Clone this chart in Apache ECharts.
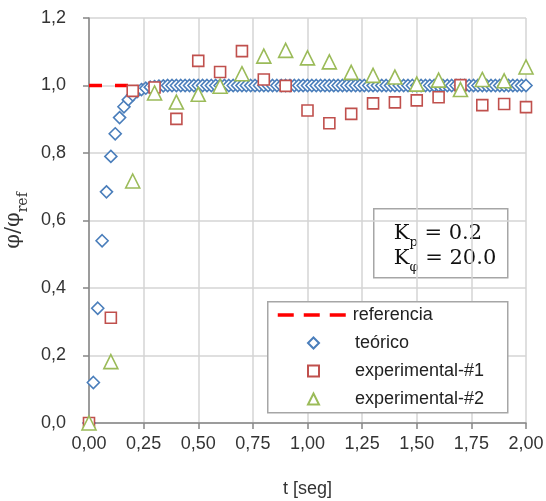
<!DOCTYPE html>
<html>
<head>
    <meta http-equiv="Content-Type" content="text/html; charset=UTF-8">
    <script src="https://cdn.jsdelivr.net/npm/echarts@6/dist/echarts.min.js"></script>
    <style>
        html, body { margin: 0; padding: 0; background: #fff; }
        #container { width: 546px; height: 501px; }
    </style>
</head>
<body>
<div id="container"></div>
<script>
// teórico: respuesta teórica, paso de 0,02 s
var teoT = [0,0.02,0.04,0.06,0.08,0.10,0.12,0.14,0.16,0.18,0.20,0.22,0.24,0.26,0.28,0.30,0.32,0.34,0.36,0.38,
            0.40,0.42,0.44,0.46,0.48,0.50,0.52,0.54,0.56,0.58,0.60,0.62,0.64,0.66,0.68,0.70,0.72,0.74,0.76,0.78,
            0.80,0.82,0.84,0.86,0.88,0.90,0.92,0.94,0.96,0.98,1.00,1.02,1.04,1.06,1.08,1.10,1.12,1.14,1.16,1.18,
            1.20,1.22,1.24,1.26,1.28,1.30,1.32,1.34,1.36,1.38,1.40,1.42,1.44,1.46,1.48,1.50,1.52,1.54,1.56,1.58,
            1.60,1.62,1.64,1.66,1.68,1.70,1.72,1.74,1.76,1.78,1.80,1.82,1.84,1.86,1.88,1.90,1.92,1.94,1.96,1.98,2.00];
var teoY = [0,0.12,0.34,0.54,0.685,0.79,0.857,0.905,0.937,0.958,0.972,0.982,0.988,0.992,0.995,0.997,0.998,0.999,1,1,
            1,1,1,1,1,1,1,1,1,1,1,1,1,1,1,1,1,1,1,1,
            1,1,1,1,1,1,1,1,1,1,1,1,1,1,1,1,1,1,1,1,
            1,1,1,1,1,1,1,1,1,1,1,1,1,1,1,1,1,1,1,1,
            1,1,1,1,1,1,1,1,1,1,1,1,1,1,1,1,1,1,1,1,1];
// experimentales, paso de 0,1 s
var expT  = [0,0.1,0.2,0.3,0.4,0.5,0.6,0.7,0.8,0.9,1.0,1.1,1.2,1.3,1.4,1.5,1.6,1.7,1.8,1.9,2.0];
var exp1Y = [0,0.312,0.984,0.994,0.901,1.073,1.040,1.102,1.018,0.999,0.926,0.888,0.916,0.947,0.950,0.956,0.965,1.001,0.942,0.945,0.936];
var exp2Y = [0,0.182,0.717,0.978,0.951,0.974,0.998,1.035,1.087,1.104,1.082,1.070,1.039,1.030,1.025,1.004,1.016,0.988,1.018,1.014,1.055];
var refT = [0, 2];
var refY = [1, 1];

function pares(xs, ys){
    var out = [];
    for (var i = 0; i < xs.length; i++) out.push([xs[i], ys[i]]);
    return out;
}

var fuente = '"Liberation Sans", Arial, sans-serif';
var serif = '"DejaVu Serif", "Liberation Serif", serif';
var txtLeyenda = { fontFamily: fuente, fontSize: 18, color: '#222', lineHeight: 20 };

var myChart = echarts.init(document.getElementById('container'), null, {renderer: 'canvas'});
var option = {
    animation: false,
    backgroundColor: '#fff',
    grid: { left: 89, right: 20, top: 18, bottom: 78, outerBoundsMode: 'none', containLabel: false },
    xAxis: {
        type: 'value', min: 0, max: 2, interval: 0.25,
        name: 't [seg]', nameLocation: 'middle', nameGap: 57,
        nameTextStyle: { fontFamily: fuente, fontSize: 18, color: '#333' },
        axisLine: { show: true, onZero: false, lineStyle: { color: '#868686', width: 1.5 } },
        axisTick: { show: true, length: 6, lineStyle: { color: '#868686', width: 1.5 } },
        axisLabel: { margin: 12, fontFamily: fuente, fontSize: 18, color: '#333',
            formatter: function(v){ return v.toFixed(2).replace('.', ','); } },
        splitLine: { show: true, lineStyle: { color: '#d4d4d4', width: 1.5 } }
    },
    yAxis: {
        type: 'value', min: 0, max: 1.2, interval: 0.2,
        name: '{a|φ/φ}{b|ref}', nameLocation: 'middle', nameGap: 55,
        nameTextStyle: {
            rich: {
                a: { fontFamily: serif, fontSize: 21, color: '#333', lineHeight: 26, verticalAlign: 'bottom' },
                b: { fontFamily: serif, fontSize: 14, color: '#333', lineHeight: 26, verticalAlign: 'bottom', padding: [0,0,-6,0] }
            }
        },
        axisLine: { show: true, lineStyle: { color: '#868686', width: 1.5 } },
        axisTick: { show: true, length: 6, lineStyle: { color: '#868686', width: 1.5 } },
        axisLabel: { margin: 23, fontFamily: fuente, fontSize: 18, color: '#333',
            formatter: function(v){ return v.toFixed(1).replace('.', ','); } },
        splitLine: { show: true, lineStyle: { color: '#d4d4d4', width: 1.5 } }
    },
    legend: [{
        orient: 'vertical', left: 276, top: 305, z: 10,
        padding: 0, itemWidth: 70, itemHeight: 14,
        textStyle: txtLeyenda,
        data: [{ name: 'referencia', itemStyle: { opacity: 0 }, lineStyle: { type: [16, 10], width: 3.5 } }]
    }, {
        orient: 'vertical', left: 307, top: 333, z: 10,
        padding: 0, itemGap: 8, itemWidth: 11, itemHeight: 11,
        textStyle: { fontFamily: fuente, fontSize: 18, color: '#222', lineHeight: 20, padding: [0, 0, 0, 31] },
        data: ['teórico', 'experimental-#1', 'experimental-#2']
    }],
    graphic: [{
        type: 'rect', left: 267, top: 301, z: 5,
        shape: { width: 240, height: 111 },
        style: { fill: '#fff', stroke: '#a6a6a6', lineWidth: 1.5 }
    }, {
        type: 'group', left: 373, top: 208, z: 100,
        children: [{
            type: 'rect', shape: { x: 0, y: 0, width: 134, height: 69 },
            style: { fill: '#fff', stroke: '#a6a6a6', lineWidth: 1.5 }
        }, {
            type: 'text', x: 20, y: 10,
            style: {
                text: '{k|K}{s|p}{k| = 0.2}\n{k|K}{s|φ}{k| = 20.0}',
                rich: {
                    k: { fontFamily: serif, fontSize: 21, fill: '#111', lineHeight: 25, verticalAlign: 'bottom' },
                    s: { fontFamily: serif, fontSize: 13, fill: '#111', lineHeight: 25, verticalAlign: 'bottom', padding: [0,0,-5,0] }
                }
            }
        }]
    }],
    series: [{
        name: 'referencia', type: 'line', data: pares(refT, refY),
        symbol: 'none', z: 1,
        lineStyle: { color: '#ff0000', width: 3.5, type: [13, 13] },
        itemStyle: { color: '#ff0000' }
    }, {
        name: 'teórico', type: 'scatter', data: pares(teoT, teoY),
        symbol: 'diamond', symbolSize: 12, z: 2,
        itemStyle: { color: '#fff', borderColor: '#4a7ebb', borderWidth: 1.6, opacity: 1 }
    }, {
        name: 'experimental-#1', type: 'scatter', data: pares(expT, exp1Y),
        symbol: 'rect', symbolSize: 11, z: 3,
        itemStyle: { color: '#fff', borderColor: '#c0504d', borderWidth: 1.6, opacity: 1 }
    }, {
        name: 'experimental-#2', type: 'scatter', data: pares(expT, exp2Y),
        symbol: 'triangle', symbolSize: 14, z: 4,
        itemStyle: { color: '#fff', borderColor: '#9bbb59', borderWidth: 1.6, opacity: 1 }
    }]
};
myChart.setOption(option);
</script>
</body>
</html>
